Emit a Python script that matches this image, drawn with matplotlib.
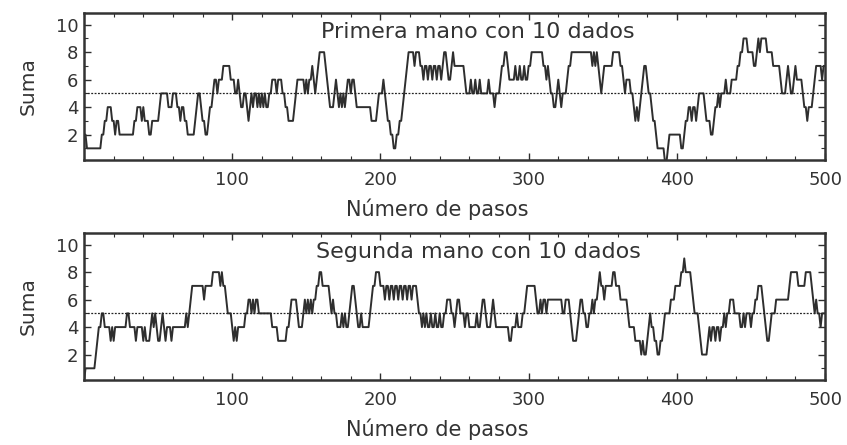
import matplotlib
matplotlib.use("Agg")
import numpy as np
import matplotlib.pyplot as plt
from matplotlib.ticker import MultipleLocator

plt.rcParams['font.family'] = ['DejaVu Sans']

# step where the sum changes, and the new sum
top_steps = [0, 2, 12, 14, 16, 19, 21, 22, 24, 34, 36, 39, 40, 41, 44, 46, 51, 52, 57, 60,
             63, 65, 66, 68, 70, 75, 76, 77, 79, 80, 82, 84, 85, 87, 88, 90, 91, 94, 99, 102,
             104, 105, 106, 108, 110, 111, 112, 113, 114, 115, 117, 118, 119, 120, 121, 122, 123, 125, 127, 130,
             131, 134, 136, 138, 142, 143, 144, 149, 150, 151, 152, 154, 155, 156, 157, 158, 159, 163, 164, 165,
             166, 169, 170, 171, 172, 173, 174, 175, 176, 177, 178, 180, 181, 183, 184, 194, 198, 199, 202, 203,
             204, 205, 207, 209, 211, 213, 215, 216, 217, 218, 219, 223, 224, 227, 229, 230, 232, 233, 235, 236,
             238, 239, 241, 242, 243, 245, 246, 248, 249, 250, 257, 258, 261, 262, 264, 265, 267, 268, 273, 274,
             277, 278, 281, 282, 284, 286, 287, 291, 292, 294, 295, 297, 298, 300, 302, 310, 312, 313, 314, 315,
             317, 319, 320, 321, 322, 323, 326, 327, 329, 343, 344, 345, 346, 347, 348, 349, 350, 351, 357, 362,
             364, 365, 366, 369, 371, 372, 373, 374, 375, 376, 377, 378, 380, 381, 383, 384, 386, 387, 392, 394,
             395, 403, 405, 406, 408, 410, 411, 413, 414, 415, 419, 420, 423, 425, 426, 428, 429, 430, 433, 434,
             437, 441, 443, 445, 448, 452, 454, 455, 456, 457, 461, 465, 470, 471, 474, 475, 476, 477, 479, 480,
             481, 485, 486, 488, 489, 492, 493, 494, 498, 499]
top_sums = [2, 1, 2, 3, 4, 3, 2, 3, 2, 3, 4, 3, 4, 3, 2, 3, 4, 5, 4, 5,
            4, 3, 4, 3, 2, 3, 4, 5, 4, 3, 2, 3, 4, 5, 6, 5, 6, 7, 6, 5,
            6, 5, 4, 5, 4, 3, 4, 5, 4, 5, 4, 5, 4, 5, 4, 5, 4, 5, 6, 5,
            6, 5, 4, 3, 4, 5, 6, 5, 6, 5, 6, 7, 6, 5, 6, 7, 8, 7, 6, 5,
            4, 5, 6, 5, 4, 5, 4, 5, 4, 5, 6, 5, 6, 5, 4, 3, 4, 5, 6, 5,
            4, 3, 2, 1, 2, 3, 4, 5, 6, 7, 8, 7, 8, 7, 6, 7, 6, 7, 6, 7,
            6, 7, 6, 7, 8, 7, 6, 7, 8, 7, 6, 5, 6, 5, 6, 5, 6, 5, 6, 5,
            4, 5, 6, 7, 8, 7, 6, 7, 6, 7, 6, 7, 6, 7, 8, 7, 6, 7, 6, 5,
            4, 5, 6, 5, 4, 5, 6, 7, 8, 7, 8, 7, 8, 7, 6, 5, 6, 7, 8, 7,
            6, 5, 6, 5, 4, 3, 4, 3, 4, 5, 6, 7, 6, 5, 4, 3, 2, 1, 0, 1,
            2, 1, 2, 3, 4, 3, 4, 3, 4, 5, 4, 3, 2, 3, 4, 5, 4, 5, 6, 5,
            6, 7, 8, 9, 8, 7, 8, 9, 8, 9, 8, 7, 6, 5, 6, 7, 6, 5, 6, 7,
            6, 5, 4, 3, 4, 5, 6, 7, 6, 7]

bottom_steps = [0, 1, 8, 9, 10, 12, 14, 18, 19, 20, 21, 29, 31, 35, 36, 40, 41, 42, 45, 46,
                47, 48, 49, 50, 52, 53, 54, 55, 56, 59, 60, 69, 70, 71, 72, 73, 81, 82, 87, 92,
                93, 94, 96, 97, 100, 101, 102, 103, 104, 109, 111, 113, 114, 115, 116, 118, 127, 131, 137, 139,
                140, 144, 145, 148, 149, 150, 151, 152, 153, 154, 155, 157, 159, 161, 166, 167, 168, 169, 171, 174,
                175, 176, 177, 179, 180, 181, 183, 184, 185, 187, 188, 193, 194, 195, 197, 200, 203, 204, 206, 207,
                209, 210, 212, 213, 215, 216, 218, 219, 221, 222, 225, 226, 228, 229, 230, 231, 232, 234, 235, 237,
                238, 240, 241, 243, 245, 248, 250, 251, 252, 254, 257, 258, 260, 265, 266, 268, 269, 271, 272, 275,
                276, 277, 278, 287, 289, 292, 293, 296, 298, 299, 305, 306, 308, 309, 310, 312, 313, 323, 325, 328,
                329, 330, 333, 334, 335, 337, 339, 341, 343, 344, 345, 347, 348, 349, 351, 352, 357, 359, 362, 367,
                368, 372, 376, 377, 378, 380, 381, 382, 383, 385, 387, 389, 391, 392, 396, 399, 403, 405, 406, 410,
                411, 412, 415, 416, 417, 421, 422, 423, 424, 426, 427, 429, 430, 432, 433, 434, 436, 439, 443, 445,
                446, 447, 450, 451, 453, 455, 458, 459, 460, 461, 463, 464, 467, 476, 477, 482, 487, 491, 492, 493,
                494, 495, 497, 498]
bottom_sums = [0, 1, 2, 3, 4, 5, 4, 3, 4, 3, 4, 5, 4, 3, 4, 3, 4, 3, 4, 5,
               4, 5, 4, 3, 4, 5, 4, 3, 4, 3, 4, 5, 4, 5, 6, 7, 6, 7, 8, 7,
               8, 7, 6, 5, 4, 3, 4, 3, 4, 5, 6, 5, 6, 5, 6, 5, 4, 3, 4, 5,
               6, 5, 4, 5, 6, 5, 6, 5, 6, 5, 6, 7, 8, 7, 6, 5, 6, 5, 4, 5,
               4, 5, 4, 5, 6, 7, 6, 5, 4, 5, 4, 5, 6, 7, 8, 7, 6, 7, 6, 7,
               6, 7, 6, 7, 6, 7, 6, 7, 6, 7, 6, 5, 4, 5, 4, 5, 4, 5, 4, 5,
               4, 5, 4, 5, 6, 5, 4, 5, 6, 5, 4, 5, 4, 5, 4, 5, 6, 5, 4, 5,
               6, 5, 4, 3, 4, 5, 4, 5, 6, 7, 6, 5, 6, 5, 6, 5, 6, 5, 6, 5,
               4, 3, 4, 5, 6, 5, 4, 5, 6, 5, 6, 7, 8, 7, 6, 7, 8, 7, 6, 5,
               4, 3, 2, 3, 2, 3, 4, 5, 4, 3, 2, 3, 4, 5, 6, 7, 8, 9, 8, 7,
               6, 5, 4, 3, 2, 3, 4, 3, 4, 3, 4, 3, 4, 5, 4, 5, 6, 5, 4, 5,
               4, 5, 4, 5, 6, 7, 6, 5, 4, 3, 4, 5, 6, 7, 8, 7, 8, 7, 6, 5,
               6, 5, 4, 5]

titles = ["Primera mano con 10 dados", "Segunda mano con 10 dados"]
mean_lines = [5, 5]
n_steps = 500

fig = plt.figure(figsize=(8.47, 4.45), dpi=100)
ax1 = fig.add_axes([0.0992, 0.6404, 0.8749, 0.3303])
ax2 = fig.add_axes([0.0992, 0.1461, 0.8749, 0.3303])

ink = '#2e2e2e'
panels = [(ax1, top_steps, top_sums), (ax2, bottom_steps, bottom_sums)]
for i, (ax, st, su) in enumerate(panels):
    # sum at every step, held until the next change
    counts = np.diff(list(st) + [n_steps + 1])
    walk = np.repeat(su, counts)
    ax.plot(np.arange(len(walk)), walk, color=ink, lw=1.4)
    ax.axhline(mean_lines[i], color='#222222', lw=0.9, ls=(0, (1.5, 1.2)))
    ax.set_xlim(0, n_steps)
    ax.set_ylim(0.15, 10.85)
    ax.set_xticks([100, 200, 300, 400, 500])
    ax.set_yticks([2, 4, 6, 8, 10])
    ax.xaxis.set_minor_locator(MultipleLocator(20))
    ax.yaxis.set_minor_locator(MultipleLocator(1))
    ax.tick_params(which='both', direction='in', top=True, right=True, colors=ink,
                   labelcolor='#333333', labelsize=13)
    ax.tick_params(axis='x', pad=8)
    ax.tick_params(axis='y', pad=4)
    ax.tick_params(which='major', length=5, width=1)
    ax.tick_params(which='minor', length=3, width=0.8)
    for s in ax.spines.values():
        s.set_color('#333333')
        s.set_linewidth(1.8)
    ax.set_xlabel("Número de pasos", fontsize=15, color='#333333', labelpad=3)
    ax.xaxis.set_label_coords(0.476, -0.265, transform=ax.transAxes)
    ax.xaxis.label.set_va('top')
    ax.set_ylabel("Suma", fontsize=14.5, color='#333333', labelpad=13)
    ax.text(0.532, 0.87, titles[i], transform=ax.transAxes, ha='center', va='center',
            fontsize=16, color='#333333')

fig.savefig("out.png", dpi=100)
